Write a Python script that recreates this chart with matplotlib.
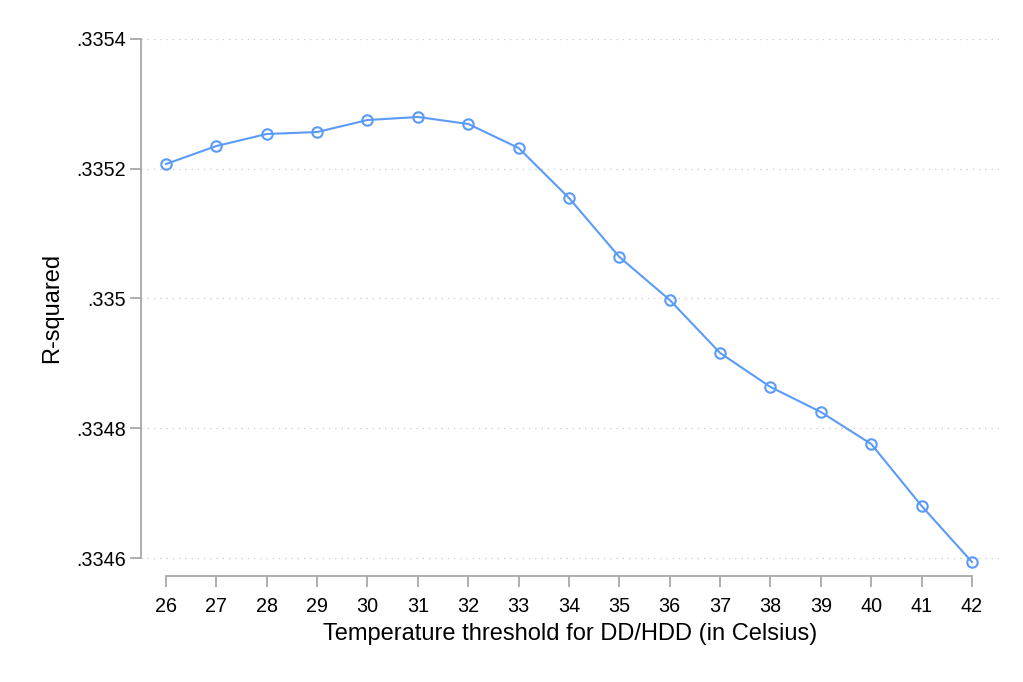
import matplotlib.pyplot as plt

plt.rcParams['font.family'] = ['Liberation Sans', 'DejaVu Sans']

thresholds = [26, 27, 28, 29, 30, 31, 32, 33, 34, 35, 36, 37, 38, 39, 40, 41, 42]
r_squared = [.3352073, .3352350, .3352536, .3352566, .3352751, .3352798, .3352690,
             .3352320, .3351549, .3350640, .3349977, .3349160, .3348636, .3348250,
             .3347757, .3346802, .3345938]
y_ticks = [.3346, .3348, .3350, .3352, .3354]
y_labels = ['.3346', '.3348', '.335', '.3352', '.3354']

fig = plt.figure(figsize=(10.23, 6.82), dpi=100)
ax = fig.add_axes([141 / 1023, 1 - 576 / 682, (1000 - 141) / 1023, (576 - 39) / 682])

ax.plot(thresholds, r_squared, color='#5b9bf8', linewidth=1.5, marker='o',
        markersize=7.5, markerfacecolor='none', markeredgewidth=1.5)

ax.set_xlim(26 - 25 / 50.375, 42 + 28 / 50.375)
ax.set_ylim(.3346 - 18 * 0.0002 / 129.75, .3354)
ax.set_xticks(thresholds)
ax.set_yticks(y_ticks)
ax.set_yticklabels(y_labels)

ax.grid(axis='y', linestyle=(0, (1, 4)), color='#c8c8c8', linewidth=0.9)
ax.grid(axis='x', visible=False)

for s in ['top', 'right']:
    ax.spines[s].set_visible(False)
ax.spines['left'].set_bounds(.3346, .3354)
ax.spines['bottom'].set_bounds(26, 42)
for s in ['left', 'bottom']:
    ax.spines[s].set_color('#a8a8a8')
    ax.spines[s].set_linewidth(1.3)
ax.tick_params(axis='both', colors='#a8a8a8', width=1.3, length=8,
               labelcolor='black', labelsize=14.2, pad=3)
ax.tick_params(axis='x', pad=7)

ax.set_xlabel('Temperature threshold for DD/HDD (in Celsius)', fontsize=17, labelpad=5)
ax.set_ylabel('R-squared', fontsize=17, labelpad=9)

fig.savefig('out.png', dpi=100)
